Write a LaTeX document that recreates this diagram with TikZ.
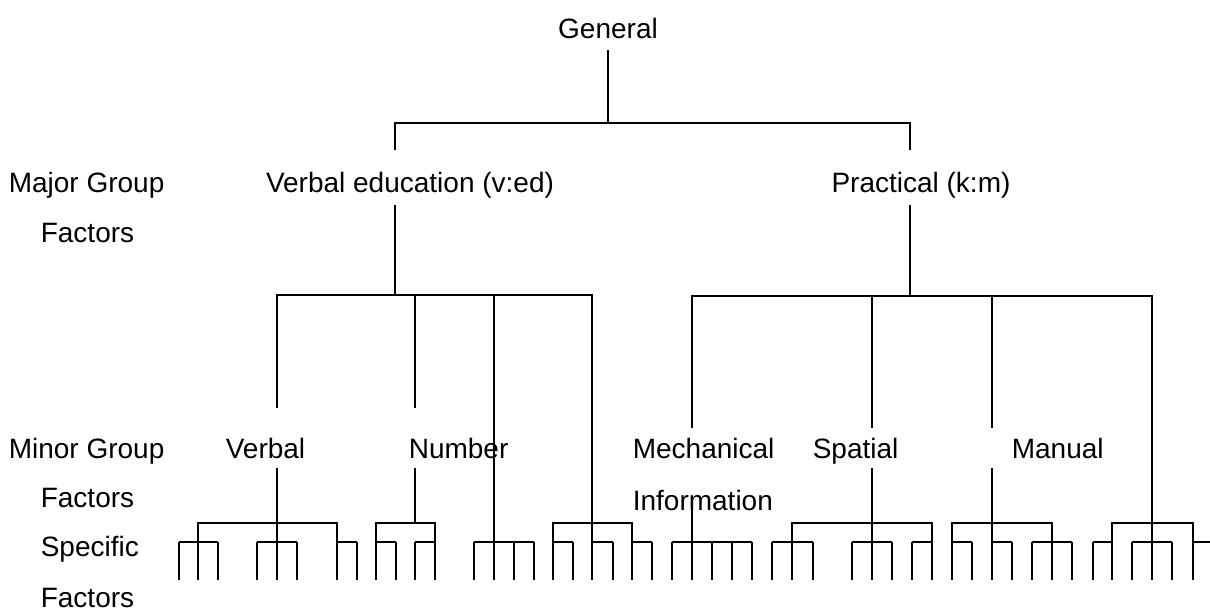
\documentclass[tikz,border=0pt]{standalone}
\usepackage{fontspec}
\setmainfont{Liberation Sans}
\begin{document}
\begin{tikzpicture}[x=1pt,y=-1pt,line width=1.6pt,
  lbl/.style={font=\fontsize{28}{34}\selectfont,inner sep=0pt,anchor=base},
  lblw/.style={lbl,anchor=base west}]
\useasboundingbox (0,0) rectangle (1210,614);
% ---- texts
\node[lbl]  (gen)    at (608,38)  {General};
\node[lblw] (mg)     at (8,192)   {Major Group};
\node[lblw] (mgf)    at (40,242)  {Factors};
\node[lbl]  (ve)     at (410,192) {Verbal education (v:ed)};
\node[lbl]  (pr)     at (921,192) {Practical (k:m)};
\node[lblw] (ming)   at (8,458)   {Minor Group};
\node[lblw] (minf)   at (40,507)  {Factors};
\node[lblw] (spec)   at (40,556)  {Specific};
\node[lblw] (specf)  at (40,607)  {Factors};
\node[lblw] (verbal) at (225,458) {Verbal};
\node[lblw] (number) at (408,458) {Number};
\node[lblw] (mech)   at (632,458) {Mechanical};
\node[lblw] (info)   at (632,510) {Information};
\node[lblw] (spat)   at (812,458) {Spatial};
\node[lblw] (man)    at (1011,458){Manual};
% ---- junction coordinates
\coordinate (g0) at (608,50);  \coordinate (g1) at (608,123);
\coordinate (veT) at (395,123); \coordinate (veA) at (395,150);
\coordinate (veB) at (395,205); \coordinate (veJ) at (395,295);
\coordinate (prT) at (910,123); \coordinate (prA) at (910,150);
\coordinate (prB) at (910,205); \coordinate (prJ) at (910,296);
% general
\draw (g0) -- (g1);
\draw (veA) -- (veT) -- (prT) -- (prA);
\draw (veB) -- (veJ);
\draw (prB) -- (prJ);
% verbal-education branch
\coordinate (vbT) at (277,295); \coordinate (vbA) at (277,408);
\coordinate (nuT) at (415,295); \coordinate (nuA) at (415,408);
\coordinate (c4T) at (494,295); \coordinate (c4B) at (494,580);
\coordinate (c5T) at (592,295); \coordinate (c5B) at (592,580);
\draw (vbA) -- (vbT) -- (c5T) -- (c5B);
\draw (nuT) -- (nuA);
\draw (c4T) -- (c4B);
% practical branch
\coordinate (meT) at (692,296); \coordinate (meA) at (692,428);
\coordinate (spT) at (872,296); \coordinate (spA) at (872,428);
\coordinate (maT) at (992,296); \coordinate (maA) at (992,428);
\coordinate (c9T) at (1152,296); \coordinate (c9B) at (1152,580);
\draw (meA) -- (meT) -- (c9T) -- (c9B);
\draw (spT) -- (spA);
\draw (maT) -- (maA);
% lower parts below minor labels
\coordinate (vbC) at (277,468); \coordinate (vbB) at (277,580);
\coordinate (nuC) at (415,468); \coordinate (nuB) at (415,523);
\coordinate (meC) at (692,507); \coordinate (meB) at (692,580);
\coordinate (spC) at (872,468); \coordinate (spB) at (872,580);
\coordinate (maC) at (992,468); \coordinate (maB) at (992,580);
\draw (vbC) -- (vbB);
\draw (nuC) -- (nuB);
\draw (meC) -- (meB);
\draw (spC) -- (spB);
\draw (maC) -- (maB);
% group bars (y=523) with end legs down to 580
\foreach \a/\b in {198/337,376/435,553/632,792/932,952/1052,1112/1193}{
  \draw (\a,580) -- (\a,523) -- (\b,523) -- (\b,580);
}
% sub-bars (y=542)
\foreach \a/\b in {179/218,257/297,337/357,376/396,415/435,474/534,553/573,
  592/613,632/652,672/752,772/813,852/892,912/932,952/972,992/1012,1032/1072,
  1093/1112,1132/1172,1193/1210}{
  \draw (\a,542) -- (\b,542);
}
% prongs (specific factors)
\foreach \p in {179,218,257,297,357,396,415,474,514,534,573,613,652,672,712,
  732,752,772,813,852,892,912,972,1012,1032,1072,1093,1132,1172}{
  \draw (\p,542) -- (\p,580);
}
\end{tikzpicture}
\end{document}
